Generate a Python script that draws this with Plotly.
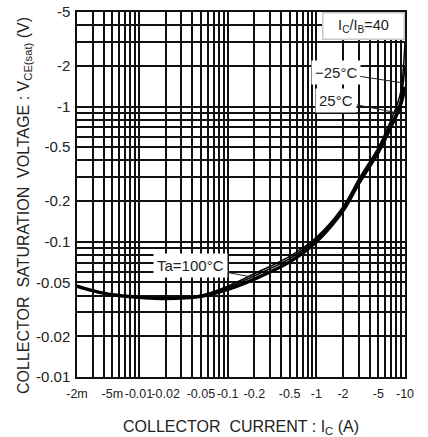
import plotly.graph_objects as go

# Collector current magnitude (A) — plotted on a log axis, labelled negative
ic = [0.002, 0.003, 0.005, 0.01, 0.02, 0.05, 0.1, 0.2, 0.5, 1, 2, 3, 5, 6, 7, 8, 9, 10]
# VCE(sat) magnitude (V) for each ambient temperature
v_100 = [0.047, 0.0435, 0.0405, 0.0388, 0.038, 0.0395, 0.0445, 0.053, 0.071, 0.100, 0.170, 0.27, 0.46, 0.58, 0.72, 0.86, 1.05, 1.4]
v_25 = [0.047, 0.0435, 0.0405, 0.0388, 0.0381, 0.0400, 0.0460, 0.056, 0.075, 0.105, 0.176, 0.28, 0.48, 0.61, 0.75, 0.90, 1.15, 2.0]
v_m25 = [0.047, 0.0435, 0.0405, 0.0388, 0.0382, 0.0403, 0.0470, 0.058, 0.078, 0.108, 0.182, 0.29, 0.50, 0.64, 0.80, 1.00, 1.30, 3.0]

x_tickvals = [0.002, 0.005, 0.01, 0.02, 0.05, 0.1, 0.2, 0.5, 1, 2, 5, 10]
x_ticktext = ["-2m", "-5m", "-0.01", "-0.02", "-0.05", "-0.1", "-0.2", "-0.5", "-1", "-2", "-5", "-10"]
y_tickvals = [0.01, 0.02, 0.05, 0.1, 0.2, 0.5, 1, 2, 5]
y_ticktext = ["-0.01", "-0.02", "-0.05", "-0.1", "-0.2", "-0.5", "-1", "-2", "-5"]

x_minor = [m * 10 ** e for e in range(-3, 1) for m in range(1, 10) if 0.002 <= m * 10 ** e <= 10]
y_minor = [m * 10 ** e for e in range(-2, 1) for m in range(1, 10) if 0.01 <= m * 10 ** e <= 5]

SANS = "Liberation Sans, Arial, sans-serif"
TXT = "#222"

fig = go.Figure()
fig.add_trace(go.Scatter(x=ic, y=v_m25, mode="lines", line=dict(color="black", width=1.5, shape="spline"), name="-25°C"))
fig.add_trace(go.Scatter(x=ic, y=v_25, mode="lines", line=dict(color="black", width=1.5, shape="spline"), name="25°C"))
fig.add_trace(go.Scatter(x=ic, y=v_100, mode="lines", line=dict(color="black", width=3.5, shape="spline"), name="Ta=100°C"))

grid = dict(showgrid=True, gridcolor="#111111", gridwidth=1.5)

fig.update_xaxes(
    type="log", range=[-2.69897, 1.0], automargin=False,
    tickmode="array", tickvals=x_tickvals, ticktext=x_ticktext, tickangle=0,
    tickfont=dict(family=SANS, size=12.5, color=TXT), ticklabelstandoff=4,
    ticklabeloverflow="allow",
    ticks="", ticklen=0,
    showline=True, linecolor="#111", linewidth=1.5, mirror=True,
    minor=dict(tickmode="array", tickvals=x_minor, showgrid=True, gridcolor="#111111", gridwidth=1.5, ticks=""),
    title=dict(text="COLLECTOR  CURRENT : I<sub>C</sub> (A)", font=dict(family=SANS, size=16, color=TXT), standoff=24),
    zeroline=False, **grid,
)
fig.update_yaxes(
    type="log", range=[-2.0, 0.69897], automargin=False,
    tickmode="array", tickvals=y_tickvals, ticktext=y_ticktext,
    tickfont=dict(family=SANS, size=15, color=TXT), ticklabelstandoff=2,
    ticklabeloverflow="allow",
    ticks="", ticklen=0,
    showline=True, linecolor="#111", linewidth=1.5, mirror=True,
    minor=dict(tickmode="array", tickvals=y_minor, showgrid=True, gridcolor="#111111", gridwidth=1.5, ticks=""),
    zeroline=False, **grid,
)

# y-axis title placed as rotated text so it can run slightly below the plot like the reference
fig.add_annotation(xref="paper", yref="paper", x=-0.162, y=0.471, xanchor="center", yanchor="middle",
                   textangle=-90, showarrow=False,
                   text="COLLECTOR  SATURATION  VOLTAGE : V<sub>CE(sat)</sub> (V)",
                   font=dict(family=SANS, size=16, color=TXT))

ann_font = dict(family=SANS, size=15, color=TXT)
fig.add_annotation(xref="paper", yref="paper", x=1, y=1, xanchor="right", yanchor="top",
                   text="I<sub>C</sub>/I<sub>B</sub>=40", showarrow=False, width=80, height=25,
                   bgcolor="white", bordercolor="#c8c8c8", borderwidth=1.5, borderpad=0,
                   font=dict(family=SANS, size=14.5, color=TXT))
fig.add_annotation(x=0.9638, y=0.176, text="−25°C", showarrow=True, arrowhead=0, arrowwidth=1,
                   arrowcolor=TXT, ax=-66, ay=-10, bgcolor="white", borderpad=3, font=ann_font)
fig.add_annotation(x=0.903, y=-0.046, text="25°C", showarrow=True, arrowhead=0, arrowwidth=1,
                   arrowcolor=TXT, ax=-60, ay=-12, bgcolor="white", borderpad=3, font=ann_font)
fig.add_annotation(x=-0.693, y=-1.265, text="Ta=100°C", showarrow=True, arrowhead=0, arrowwidth=1,
                   arrowcolor=TXT, ax=-64, ay=-12, bgcolor="white", borderpad=3, font=ann_font)

fig.update_layout(
    width=428, height=437,
    margin=dict(l=77, r=23, t=12, b=60),
    paper_bgcolor="white", plot_bgcolor="white",
    showlegend=False,
)

# remove the page's default 8px body margin so the figure fills the window exactly
fig.write_html("out.html", config={"displayModeBar": False},
               post_script="document.body.style.margin='0px';")
